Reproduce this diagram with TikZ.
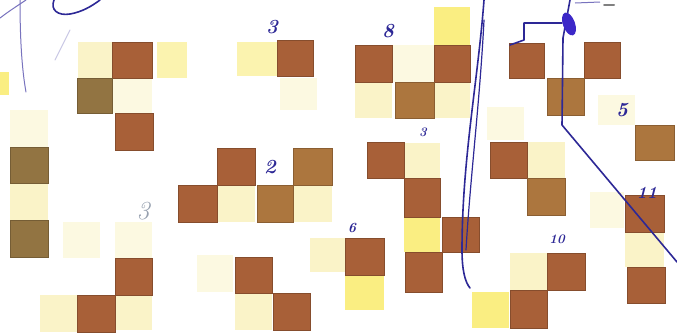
\documentclass[tikz,border=0pt]{standalone}
\usepackage{tikz}
\definecolor{brA}{RGB}{168,96,56}
\definecolor{brO}{RGB}{146,116,66}
\definecolor{brG}{RGB}{172,118,62}
\definecolor{ltA}{RGB}{250,243,200}
\definecolor{ltF}{RGB}{252,249,225}
\definecolor{ltY}{RGB}{250,238,130}
\definecolor{ltP}{RGB}{251,243,175}
\definecolor{ink}{RGB}{45,40,150}
\definecolor{inkB}{RGB}{60,40,200}
\definecolor{inkL}{RGB}{120,115,190}
\definecolor{inkgray}{RGB}{150,160,175}
\begin{document}
\begin{tikzpicture}[x=1pt,y=-1pt,
  br/.style={fill=brA,draw=brA!80!black,line width=0.6pt},
  bro/.style={fill=brO,draw=brO!80!black,line width=0.6pt},
  brg/.style={fill=brG,draw=brG!80!black,line width=0.6pt},
  lt/.style={fill=ltA},
  ltf/.style={fill=ltF},
  lty/.style={fill=ltY},
  ltp/.style={fill=ltP},
  pen/.style={draw=ink,line width=1.6pt,line cap=round,line join=round},
  thinpen/.style={draw=inkL,line width=1pt,line cap=round},
  num/.style={text=ink,font=\fontsize{20}{20}\selectfont\itshape\bfseries,inner sep=0pt}]
\useasboundingbox (0,0) rectangle (677,333);
\fill[white] (0,0) rectangle (677,333);
% light squares
\fill[lt] (78,42) rectangle (112,78);
\fill[ltp] (157,42) rectangle (187,78);
\fill[ltf] (112,78) rectangle (152,113);
\fill[ltf] (10,110) rectangle (48,147);
\fill[lt] (10,183) rectangle (48,220);
\fill[ltf] (63,222) rectangle (100,258);
\fill[ltf] (115,222) rectangle (152,258);
\fill[lt] (115,295) rectangle (152,330);
\fill[lt] (40,295) rectangle (77,332);
\fill[ltp] (237,42) rectangle (277,76);
\fill[ltf] (280,78) rectangle (317,110);
\fill[lt] (217,185) rectangle (255,222);
\fill[lt] (293,185) rectangle (332,222);
\fill[ltf] (197,255) rectangle (233,292);
\fill[lt] (235,293) rectangle (272,330);
\fill[lt] (310,238) rectangle (345,272);
\fill[lty] (434,7) rectangle (470,45);
\fill[ltf] (392,45) rectangle (434,82);
\fill[lt] (355,82) rectangle (392,118);
\fill[lt] (434,82) rectangle (470,118);
\fill[lt] (404,143) rectangle (440,178);
\fill[lty] (404,217) rectangle (440,252);
\fill[lty] (345,275) rectangle (384,310);
\fill[ltf] (487,107) rectangle (524,140);
\fill[lt] (527,142) rectangle (565,178);
\fill[ltf] (590,192) rectangle (624,228);
\fill[ltf] (598,95) rectangle (635,125);
\fill[lt] (625,232) rectangle (664,267);
\fill[lt] (510,253) rectangle (547,290);
\fill[lty] (472,292) rectangle (509,328);
\fill[lty] (0,72) rectangle (9,95);
% brown squares
\filldraw[br] (112,42) rectangle (152,78);
\filldraw[bro] (77,78) rectangle (112,113);
\filldraw[br] (115,113) rectangle (153,150);
\filldraw[bro] (10,147) rectangle (48,183);
\filldraw[bro] (10,220) rectangle (48,257);
\filldraw[br] (277,40) rectangle (313,76);
\filldraw[br] (217,148) rectangle (255,185);
\filldraw[brg] (293,148) rectangle (332,185);
\filldraw[br] (178,185) rectangle (217,222);
\filldraw[brg] (257,185) rectangle (293,222);
\filldraw[br] (115,258) rectangle (152,295);
\filldraw[br] (77,295) rectangle (115,332);
\filldraw[br] (235,257) rectangle (272,293);
\filldraw[br] (273,293) rectangle (310,330);
\filldraw[br] (355,45) rectangle (392,82);
\filldraw[br] (434,45) rectangle (470,82);
\filldraw[brg] (395,82) rectangle (434,118);
\filldraw[br] (367,142) rectangle (404,178);
\filldraw[br] (404,178) rectangle (440,217);
\filldraw[br] (442,217) rectangle (479,252);
\filldraw[br] (405,252) rectangle (442,292);
\filldraw[br] (345,238) rectangle (384,275);
\filldraw[br] (509,43) rectangle (544,78);
\filldraw[br] (584,42) rectangle (620,78);
\filldraw[brg] (547,78) rectangle (584,115);
\filldraw[brg] (635,125) rectangle (674,160);
\filldraw[br] (490,142) rectangle (527,178);
\filldraw[brg] (527,178) rectangle (565,215);
\filldraw[br] (625,195) rectangle (664,232);
\filldraw[br] (627,267) rectangle (665,303);
\filldraw[br] (547,253) rectangle (585,290);
\filldraw[br] (510,290) rectangle (547,328);
% ink strokes
\draw[thinpen] (0,18) .. controls (8,12) .. (26,0);
\draw[thinpen] (20,0) .. controls (20,40) and (22,70) .. (26,92);
\draw[pen] (54,0) .. controls (50,10) and (58,16) .. (70,14) .. controls (82,12) and (92,6) .. (100,0);
\draw[thinpen,draw=inkL!40] (70,30) -- (55,60);
\draw[pen] (484,0) .. controls (478,80) and (462,160) .. (462,250) .. controls (462,270) and (465,282) .. (470,288);
\draw[pen,line width=1.2pt] (484,20) .. controls (480,100) and (470,180) .. (466,250);
\draw[pen] (510,45) -- (524,40) -- (524,23) -- (562,23);
\draw[pen] (570,0) -- (563,38) -- (562,125) -- (677,262);
\fill[inkB,rotate around={20:(569,24)}] (569,24) ellipse (6pt and 12pt);
\draw[draw=inkL,line width=1pt] (575,3) -- (600,2);
\draw[gray,line width=2pt,line cap=round] (604,5) -- (614,5);
% numbers
\node[num] (n1) at (272,27) {3};
\node[num] (n2) at (388,31) {8};
\node[num,font=\fontsize{13}{13}\selectfont\itshape\bfseries] (n3) at (423,132) {3};
\node[num] (n4) at (270,167) {2};
\node[num] (n5) at (622,110) {5};
\node[num,font=\fontsize{17}{17}\selectfont\itshape\bfseries] (n6) at (647,193) {11};
\node[num,font=\fontsize{13}{13}\selectfont\itshape\bfseries] (n7) at (557,239) {10};
\node[num,font=\fontsize{14}{14}\selectfont\itshape\bfseries] (n8) at (352,228) {6};
\node[num,text=inkgray,font=\fontsize{26}{26}\selectfont\itshape] (n9) at (143,211) {3};
\end{tikzpicture}
\end{document}
